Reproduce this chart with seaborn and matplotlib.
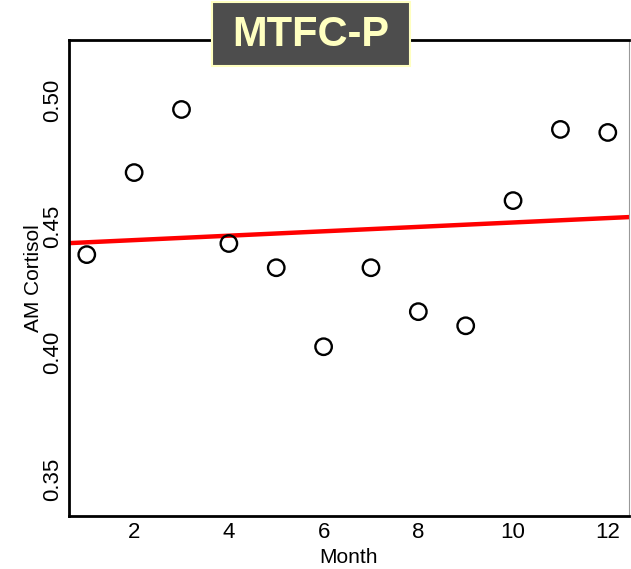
import numpy as np
import pandas as pd
import matplotlib
matplotlib.use("Agg")
import matplotlib.pyplot as plt
import matplotlib.patches as patches
import seaborn as sns

months = [1, 2, 3, 4, 5, 6, 7, 8, 9, 10, 11, 12]
cortisol = [0.4389, 0.4714, 0.4964, 0.4433, 0.4337, 0.4024,
            0.4337, 0.4163, 0.4107, 0.4603, 0.4885, 0.4873]
x_ticks = [2, 4, 6, 8, 10, 12]
y_ticks = [0.35, 0.40, 0.45, 0.50]

df = pd.DataFrame({'Month': months, 'AM Cortisol': cortisol})

sns.set_style("white")
plt.rcParams['font.family'] = ['Liberation Sans Narrow', 'Liberation Sans', 'DejaVu Sans']

fig = plt.figure(figsize=(6.31, 5.69), dpi=100)
ax = fig.add_axes([0.109, 0.093, 0.888, 0.837])
ax.set_xlim(0.62, 12.45)
ax.set_ylim(0.3353, 0.524)

sns.regplot(data=df, x='Month', y='AM Cortisol', ax=ax, ci=None, truncate=False,
            scatter_kws=dict(facecolors='none', edgecolors='black', s=140,
                             linewidths=1.7, alpha=1, zorder=3),
            line_kws=dict(color='red', linewidth=3.2, zorder=2))

ax.set_xticks(x_ticks)
ax.set_yticks(y_ticks)
ax.set_yticklabels([f'{v:.2f}' for v in y_ticks], rotation=90, va='center')
ax.tick_params(axis='both', direction='in', length=3, width=1, labelsize=16,
               colors='black', pad=4)
ax.set_xlabel('Month', fontsize=15, labelpad=4, color='black')
ax.set_ylabel('AM Cortisol', fontsize=15, color='black')
ax.yaxis.set_label_coords(-0.046, 0.5)

for side in ['left', 'bottom', 'top']:
    ax.spines[side].set_color('black')
    ax.spines[side].set_linewidth(2)
ax.spines['right'].set_color('#999999')
ax.spines['right'].set_linewidth(0.8)

# title box
W, H = 631, 569
box = patches.Rectangle((212 / W, 1 - 66 / H), 198 / W, 64 / H,
                        transform=fig.transFigure, facecolor='#4d4d4d',
                        edgecolor='#ffffc0', linewidth=1.5, zorder=5)
fig.patches.append(box)
fig.text(311 / W, 1 - 35 / H, 'MTFC-P', ha='center', va='center', fontsize=30,
         fontweight='bold', color='#ffffc0', family=['Liberation Sans', 'DejaVu Sans'],
         zorder=6)

fig.savefig('out.png', dpi=100)
